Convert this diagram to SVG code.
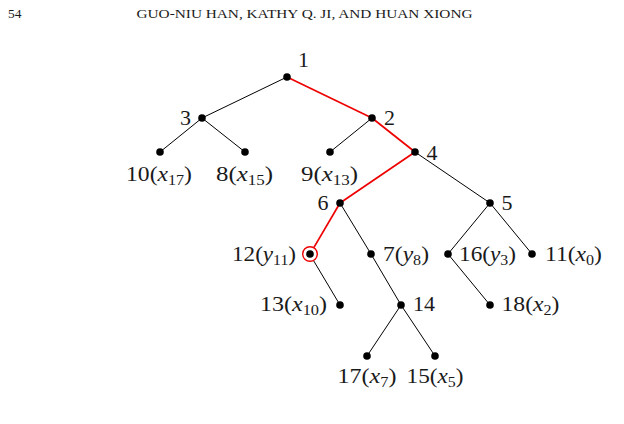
<svg xmlns="http://www.w3.org/2000/svg" width="624" height="424" viewBox="0 0 624 424">
<style>
text{font-family:"Liberation Serif","DejaVu Serif",serif;fill:#1a1a1a}
.lb{font-size:22px}
.hd{font-size:13.5px}
.s{font-size:15px}
i,.it{font-style:italic}
.e{stroke:#000;stroke-width:1;fill:none}
.r{stroke:#e00;stroke-width:1.7;fill:none}
.d{fill:#000}
</style>
<rect width="624" height="424" fill="#fff"/>
<text class="hd" x="8" y="18" textLength="13.5">54</text>
<text class="hd" x="136.5" y="18" textLength="336" lengthAdjust="spacingAndGlyphs">GUO-NIU HAN, KATHY Q. JI, AND HUAN XIONG</text>
<g id="connectors">
<line class="e" x1="287" y1="77" x2="202" y2="118"/>
<line class="r" x1="287" y1="77" x2="372" y2="118"/>
<line class="e" x1="202" y1="118" x2="160" y2="152"/>
<line class="e" x1="202" y1="118" x2="245" y2="152"/>
<line class="e" x1="372" y1="118" x2="330" y2="152"/>
<line class="r" x1="372" y1="118" x2="415" y2="152"/>
<line class="r" x1="415" y1="152" x2="340" y2="203"/>
<line class="e" x1="415" y1="152" x2="490" y2="203"/>
<line class="r" x1="340" y1="203" x2="313.8" y2="247.6"/>
<line class="e" x1="340" y1="203" x2="371" y2="254"/>
<line class="e" x1="490" y1="203" x2="448" y2="254"/>
<line class="e" x1="490" y1="203" x2="532" y2="254"/>
<line class="e" x1="313.5" y1="260.5" x2="340" y2="305"/>
<line class="e" x1="371" y1="254" x2="401" y2="305"/>
<line class="e" x1="448" y1="254" x2="490" y2="305"/>
<line class="e" x1="401" y1="305" x2="367" y2="356"/>
<line class="e" x1="401" y1="305" x2="435" y2="356"/>
</g>
<g id="n1"><circle class="d" cx="287" cy="77" r="3.8"/><text class="lb" x="303.5" y="67" text-anchor="middle">1</text></g>
<g id="n3"><circle class="d" cx="202" cy="118" r="3.8"/><text class="lb" x="191" y="125" text-anchor="end">3</text></g>
<g id="n2"><circle class="d" cx="372" cy="118" r="3.8"/><text class="lb" x="384" y="125">2</text></g>
<g id="n10"><circle class="d" cx="160" cy="152" r="3.8"/><text class="lb" x="126" y="181" textLength="66" lengthAdjust="spacingAndGlyphs">10(<tspan class="it">x</tspan><tspan class="s" dy="4">17</tspan><tspan dy="-4">)</tspan></text></g>
<g id="n8"><circle class="d" cx="245" cy="152" r="3.8"/><text class="lb" x="216" y="181" textLength="57" lengthAdjust="spacingAndGlyphs">8(<tspan class="it">x</tspan><tspan class="s" dy="4">15</tspan><tspan dy="-4">)</tspan></text></g>
<g id="n9"><circle class="d" cx="330" cy="152" r="3.8"/><text class="lb" x="301" y="181" textLength="57" lengthAdjust="spacingAndGlyphs">9(<tspan class="it">x</tspan><tspan class="s" dy="4">13</tspan><tspan dy="-4">)</tspan></text></g>
<g id="n4"><circle class="d" cx="415" cy="152" r="3.8"/><text class="lb" x="426.5" y="159.5">4</text></g>
<g id="n6"><circle class="d" cx="340" cy="203" r="3.8"/><text class="lb" x="328.5" y="209.5" text-anchor="end">6</text></g>
<g id="n5"><circle class="d" cx="490" cy="203" r="3.8"/><text class="lb" x="501.5" y="209.5">5</text></g>
<g id="n12"><circle cx="310" cy="254" r="7.3" fill="#fff" stroke="#e00" stroke-width="1.4"/><circle class="d" cx="310" cy="254" r="3.8"/><text class="lb" x="232" y="260.5" textLength="64" lengthAdjust="spacingAndGlyphs">12(<tspan class="it">y</tspan><tspan class="s" dy="4">11</tspan><tspan dy="-4">)</tspan></text></g>
<g id="n7"><circle class="d" cx="371" cy="254" r="3.8"/><text class="lb" x="383" y="260.5" textLength="46" lengthAdjust="spacingAndGlyphs">7(<tspan class="it">y</tspan><tspan class="s" dy="4">8</tspan><tspan dy="-4">)</tspan></text></g>
<g id="n16"><circle class="d" cx="448" cy="254" r="3.8"/><text class="lb" x="459" y="260.5" textLength="57" lengthAdjust="spacingAndGlyphs">16(<tspan class="it">y</tspan><tspan class="s" dy="4">3</tspan><tspan dy="-4">)</tspan></text></g>
<g id="n11"><circle class="d" cx="532" cy="254" r="3.8"/><text class="lb" x="545" y="260.5" textLength="57" lengthAdjust="spacingAndGlyphs">11(<tspan class="it">x</tspan><tspan class="s" dy="4">0</tspan><tspan dy="-4">)</tspan></text></g>
<g id="n13"><circle class="d" cx="340" cy="305" r="3.8"/><text class="lb" x="260" y="311" textLength="67" lengthAdjust="spacingAndGlyphs">13(<tspan class="it">x</tspan><tspan class="s" dy="4">10</tspan><tspan dy="-4">)</tspan></text></g>
<g id="n14"><circle class="d" cx="401" cy="305" r="3.8"/><text class="lb" x="413" y="311">14</text></g>
<g id="n18"><circle class="d" cx="490" cy="305" r="3.8"/><text class="lb" x="501.5" y="311" textLength="58" lengthAdjust="spacingAndGlyphs">18(<tspan class="it">x</tspan><tspan class="s" dy="4">2</tspan><tspan dy="-4">)</tspan></text></g>
<g id="n17"><circle class="d" cx="367" cy="356" r="3.8"/><text class="lb" x="337.5" y="383" textLength="59" lengthAdjust="spacingAndGlyphs">17(<tspan class="it">x</tspan><tspan class="s" dy="4">7</tspan><tspan dy="-4">)</tspan></text></g>
<g id="n15"><circle class="d" cx="435" cy="356" r="3.8"/><text class="lb" x="406.5" y="383" textLength="57" lengthAdjust="spacingAndGlyphs">15(<tspan class="it">x</tspan><tspan class="s" dy="4">5</tspan><tspan dy="-4">)</tspan></text></g>
</svg>
